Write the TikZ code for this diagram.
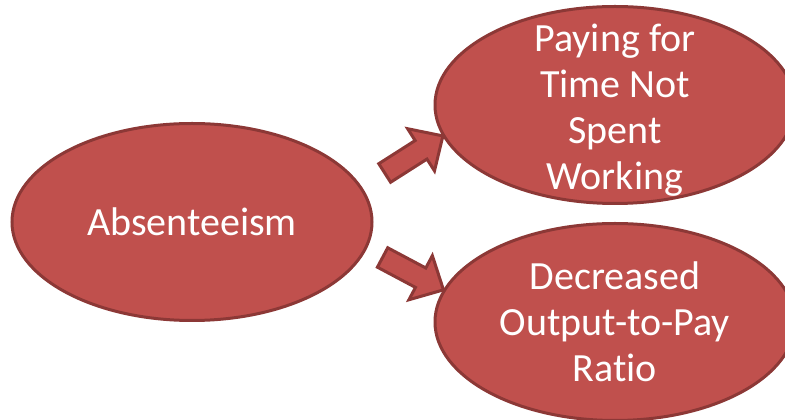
\documentclass[tikz,border=0pt]{standalone}
\usepackage{fontspec}
\setmainfont{Carlito}[Ligatures=NoCommon]
\usepackage{tikz}
\usetikzlibrary{shapes}
\usetikzlibrary{shapes.arrows}
\definecolor{cellred}{HTML}{C0504D}
\definecolor{cellborder}{HTML}{8C3836}

\begin{document}
\begin{tikzpicture}[x=1pt, y=1pt, line width=3pt,
        oval_style/.style={ellipse,draw=cellborder,fill=cellred,inner sep=0pt,
            minimum width=360pt,minimum height=197pt},
        text_style/.style={text=white,align=center,font=\fontsize{40}{46}\selectfont},
        arrow_style/.style={single arrow,draw=cellborder,fill=cellred,inner xsep=0pt,inner ysep=9.5pt,
            minimum height=69pt,single arrow head extend=14pt,single arrow tip angle=88}]
        \useasboundingbox (0,0) rectangle (785,420);

        \node [oval_style](cause) at (192,198) {};
        \node [text_style](cause_text) at (cause.center) {Absenteeism};

        \node [oval_style](pay) at (615,315) {};
        \node [text_style](pay_text) at ([yshift=-5pt]pay.center) {Paying for\\Time Not\\Spent\\Working};

        \node [oval_style](ratio) at (615,98) {};
        \node [text_style](ratio_text) at (ratio.center) {Decreased\\Output-to-Pay\\Ratio};

        \node [arrow_style,rotate=32.5](ar1) at (409,262.5) {};

        \node [arrow_style,rotate=-28](ar2) at (408,149) {};

        \end{tikzpicture}
\end{document}
